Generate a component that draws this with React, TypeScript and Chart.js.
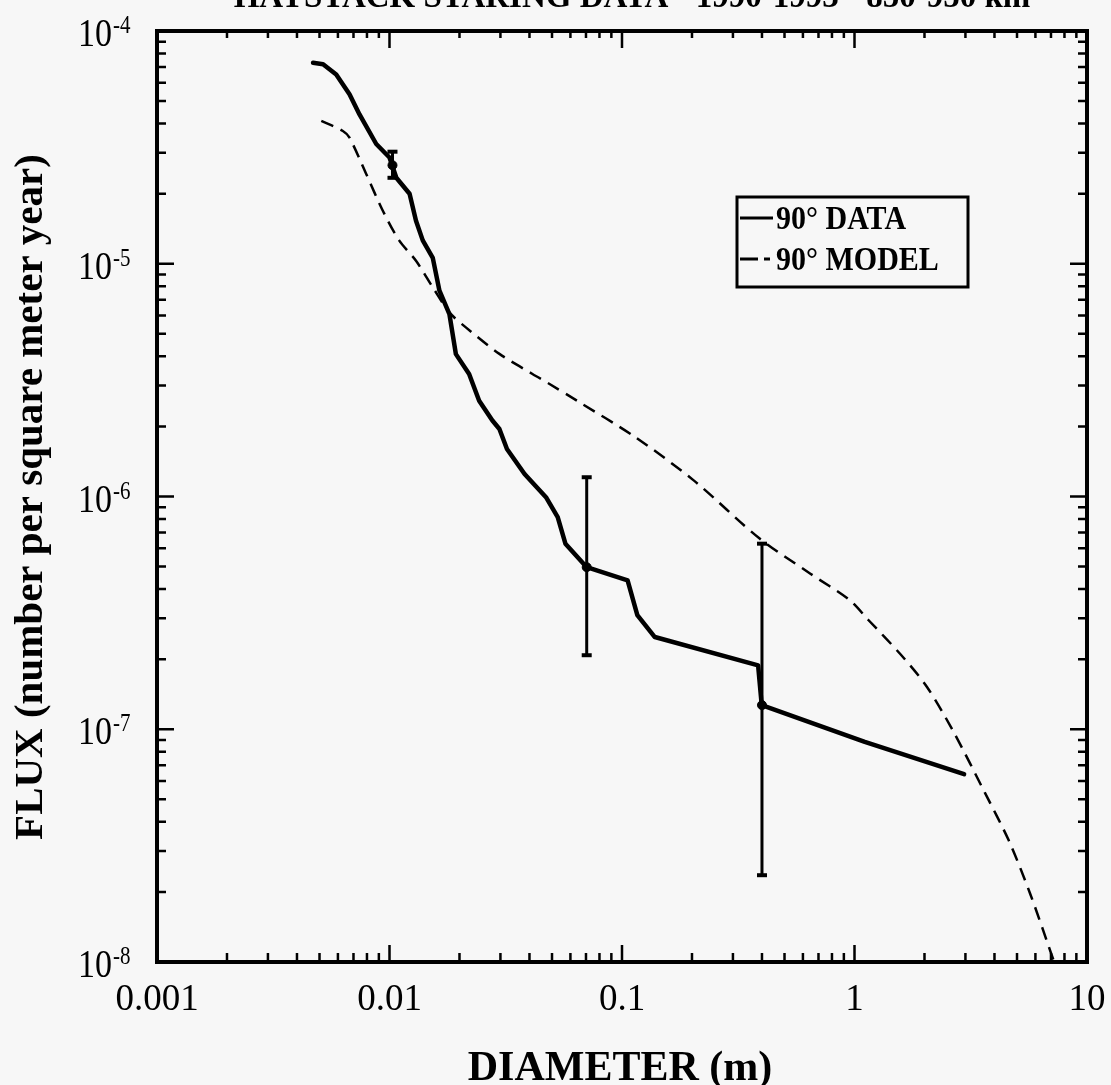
import React, { useEffect, useRef } from 'react';
import { Chart, registerables } from 'chart.js';

Chart.register(...registerables);

const FONT = "'Liberation Serif', 'DejaVu Serif', serif";

const titleText = 'HAYSTACK STARING DATA - 1990-1993 - 850-950 km';
const xAxisTitle = 'DIAMETER (m)';
const yAxisTitle = 'FLUX (number per square meter year)';

const xTickValues = [0.001, 0.01, 0.1, 1, 10];
const xTickLabels = ['0.001', '0.01', '0.1', '1', '10'];
const yTickValues = [1e-4, 1e-5, 1e-6, 1e-7, 1e-8];
const yTickExponents = ['-4', '-5', '-6', '-7', '-8'];
const legendLabels = ['90° DATA', '90° MODEL'];

// 90° DATA (solid)
const dataDiameter = [
  0.00469, 0.00518, 0.0059, 0.00673, 0.00743, 0.00877, 0.01, 0.0107, 0.0122, 0.013,
  0.0139, 0.01535, 0.0164, 0.0181, 0.0193, 0.022, 0.0243, 0.0277, 0.0297, 0.032,
  0.0381, 0.0471, 0.0529, 0.0571, 0.0705, 0.1057, 0.1164, 0.1384, 0.385, 0.399,
  1.107, 2.96,
];
const dataFlux = [
  7.3e-5, 7.2e-5, 6.5e-5, 5.35e-5, 4.38e-5, 3.27e-5, 2.86e-5, 2.34e-5, 2.0e-5, 1.53e-5,
  1.26e-5, 1.06e-5, 7.66e-6, 6.08e-6, 4.09e-6, 3.36e-6, 2.58e-6, 2.12e-6, 1.95e-6, 1.6e-6,
  1.25e-6, 9.93e-7, 8.15e-7, 6.27e-7, 4.97e-7, 4.36e-7, 3.09e-7, 2.49e-7, 1.88e-7, 1.27e-7,
  8.83e-8, 6.41e-8,
];

// 90° MODEL (dashed)
const modelDiameter = [
  0.00509, 0.0063, 0.00673, 0.00794, 0.00936, 0.011, 0.013, 0.01535, 0.0181, 0.0213,
  0.0297, 0.0412, 0.0486, 0.064, 0.114, 0.204, 0.392, 0.646, 0.949, 1.15,
  1.57, 2.05, 2.69, 3.65, 4.6, 5.69, 7.22,
];
const modelFlux = [
  4.11e-5, 3.72e-5, 3.48e-5, 2.43e-5, 1.69e-5, 1.26e-5, 1.03e-5, 7.92e-6, 6.18e-6, 5.33e-6,
  4.1e-6, 3.36e-6, 3.05e-6, 2.58e-6, 1.8e-6, 1.17e-6, 6.58e-7, 4.66e-7, 3.6e-7, 2.94e-7,
  2.11e-7, 1.52e-7, 9.59e-8, 5.3e-8, 3.34e-8, 1.97e-8, 1.0e-8,
];

// error bars
const errX = [0.0103, 0.0705, 0.4];
const errCenter = [2.65e-5, 4.97e-7, 1.27e-7];
const errLow = [2.34e-5, 2.08e-7, 2.36e-8];
const errHigh = [3.03e-5, 1.21e-6, 6.27e-7];

const paperPlugin = {
  id: 'paper',
  beforeDraw(chart: any) {
    const { ctx, width, height } = chart;
    ctx.save();
    ctx.fillStyle = '#f7f7f7';
    ctx.fillRect(0, 0, width, height);
    ctx.restore();
  },
  afterDraw(chart: any) {
    const { ctx, chartArea: a, scales } = chart;
    const xs = scales.x;
    const ys = scales.y;
    ctx.save();
    ctx.strokeStyle = '#000';
    ctx.fillStyle = '#000';

    // inward tick marks on all four sides
    const xMinor: number[] = [];
    const yMinor: number[] = [];
    for (const d of [0.001, 0.01, 0.1, 1]) for (let m = 2; m <= 9; m++) xMinor.push(d * m);
    for (const d of [1e-8, 1e-7, 1e-6, 1e-5]) for (let m = 2; m <= 9; m++) yMinor.push(d * m);
    ctx.lineWidth = 2.5;
    ctx.beginPath();
    const tx = (v: number, lb: number, lt: number) => {
      const p = xs.getPixelForValue(v);
      ctx.moveTo(p, a.bottom);
      ctx.lineTo(p, a.bottom - lb);
      ctx.moveTo(p, a.top);
      ctx.lineTo(p, a.top + lt);
    };
    const ty = (v: number, l: number) => {
      const p = ys.getPixelForValue(v);
      ctx.moveTo(a.left, p);
      ctx.lineTo(a.left + l, p);
      ctx.moveTo(a.right, p);
      ctx.lineTo(a.right - l, p);
    };
    xMinor.forEach((v) => tx(v, 9, 7));
    xTickValues.forEach((v) => tx(v, 17, 17));
    yMinor.forEach((v) => ty(v, 9));
    yTickValues.forEach((v) => ty(v, 17));
    ctx.stroke();

    // frame
    ctx.lineWidth = 4;
    ctx.strokeRect(a.left, a.top, a.right - a.left, a.bottom - a.top);

    // y tick labels with superscript exponents (slightly tall, like the scan)
    yTickValues.forEach((v, i) => {
      const p = ys.getPixelForValue(v);
      ctx.save();
      ctx.translate(0, p + 15);
      ctx.scale(1, 1.18);
      ctx.font = `34px ${FONT}`;
      ctx.textAlign = 'right';
      ctx.textBaseline = 'alphabetic';
      ctx.fillText('10', 112, 0);
      ctx.font = `21px ${FONT}`;
      ctx.textAlign = 'left';
      ctx.fillText(yTickExponents[i], 113, -11);
      ctx.restore();
    });

    // axis titles
    ctx.font = `bold 41px ${FONT}`;
    ctx.textAlign = 'center';
    ctx.textBaseline = 'alphabetic';
    ctx.save();
    ctx.translate(42, 497);
    ctx.rotate(-Math.PI / 2);
    ctx.fillText(yAxisTitle, 0, 0);
    ctx.restore();

    ctx.font = `bold 42px ${FONT}`;
    ctx.fillText(xAxisTitle, 620, 1080);

    // title (cut off at the top of the page)
    ctx.font = `bold 33px ${FONT}`;
    ctx.fillText(titleText, 632, 7);

    // legend
    ctx.lineWidth = 3;
    ctx.strokeRect(737, 197, 231, 90);
    ctx.save();
    ctx.font = `bold 30px ${FONT}`;
    ctx.textAlign = 'left';
    ctx.translate(0, 229);
    ctx.scale(1, 1.12);
    ctx.fillText(legendLabels[0], 776, 0);
    ctx.restore();
    ctx.save();
    ctx.font = `bold 30px ${FONT}`;
    ctx.textAlign = 'left';
    ctx.translate(0, 270);
    ctx.scale(1, 1.12);
    ctx.fillText(legendLabels[1], 776, 0);
    ctx.restore();
    ctx.beginPath();
    ctx.moveTo(740, 218);
    ctx.lineTo(773, 218);
    ctx.stroke();
    ctx.setLineDash([18, 6, 6, 6]);
    ctx.beginPath();
    ctx.moveTo(740, 259);
    ctx.lineTo(774, 259);
    ctx.stroke();
    ctx.setLineDash([]);

    ctx.restore();
  },
};

export default function App() {
  const ref = useRef<HTMLCanvasElement | null>(null);

  useEffect(() => {
    document.body.style.margin = '0';
    const canvas = ref.current;
    if (!canvas) return;

    const datasets: any[] = [
      {
        label: legendLabels[1],
        data: modelDiameter.map((x, i) => ({ x, y: modelFlux[i] })),
        showLine: true,
        borderColor: '#000',
        borderWidth: 2.5,
        borderDash: [13, 8],
        pointRadius: 0,
        tension: 0.3,
      },
      {
        label: legendLabels[0],
        data: dataDiameter.map((x, i) => ({ x, y: dataFlux[i] })),
        showLine: true,
        borderColor: '#000',
        borderWidth: 4.5,
        borderJoinStyle: 'round',
        borderCapStyle: 'round',
        pointRadius: 0,
        tension: 0,
      },
      ...errX.map((x, i) => ({
        label: 'err' + i,
        data: [
          { x, y: errLow[i] },
          { x, y: errHigh[i] },
        ],
        showLine: true,
        borderColor: '#000',
        borderWidth: 3,
        pointStyle: 'line',
        pointRadius: 5,
        pointBorderWidth: 4,
        pointBorderColor: '#000',
      })),
      {
        label: 'centers',
        data: errX.map((x, i) => ({ x, y: errCenter[i] })),
        showLine: false,
        pointRadius: 4.5,
        pointBackgroundColor: '#000',
        pointBorderColor: '#000',
      },
    ];

    const chart = new Chart(canvas, {
      type: 'scatter',
      data: { datasets },
      options: {
        animation: false,
        responsive: false,
        layout: { padding: { top: 31, right: 24, left: 0, bottom: 0 } },
        plugins: {
          legend: { display: false },
          tooltip: { enabled: false },
          title: { display: false },
        },
        scales: {
          x: {
            type: 'logarithmic',
            min: 0.001,
            max: 10,
            afterBuildTicks: (axis: any) => {
              axis.ticks = xTickValues.map((v) => ({ value: v }));
            },
            afterFit: (axis: any) => {
              axis.height = 123;
              axis.paddingLeft = 0;
              axis.paddingRight = 0;
            },
            grid: { display: false, drawTicks: false },
            border: { display: false },
            ticks: {
              autoSkip: false,
              maxRotation: 0,
              minRotation: 0,
              padding: 16,
              color: '#000',
              font: { family: FONT, size: 37 },
              callback: (v: any) => {
                const i = xTickValues.indexOf(Number(v));
                return i >= 0 ? xTickLabels[i] : '';
              },
            },
          },
          y: {
            type: 'logarithmic',
            min: 1e-8,
            max: 1e-4,
            afterFit: (axis: any) => {
              axis.width = 157;
              axis.paddingTop = 0;
              axis.paddingBottom = 0;
            },
            grid: { display: false, drawTicks: false },
            border: { display: false },
            ticks: { display: false },
          },
        },
      } as any,
      plugins: [paperPlugin],
    });

    return () => chart.destroy();
  }, []);

  return (
    <div style={{ position: 'absolute', left: 0, top: 0, width: 1111, height: 1085 }}>
      <canvas ref={ref} width={1111} height={1085} />
    </div>
  );
}
